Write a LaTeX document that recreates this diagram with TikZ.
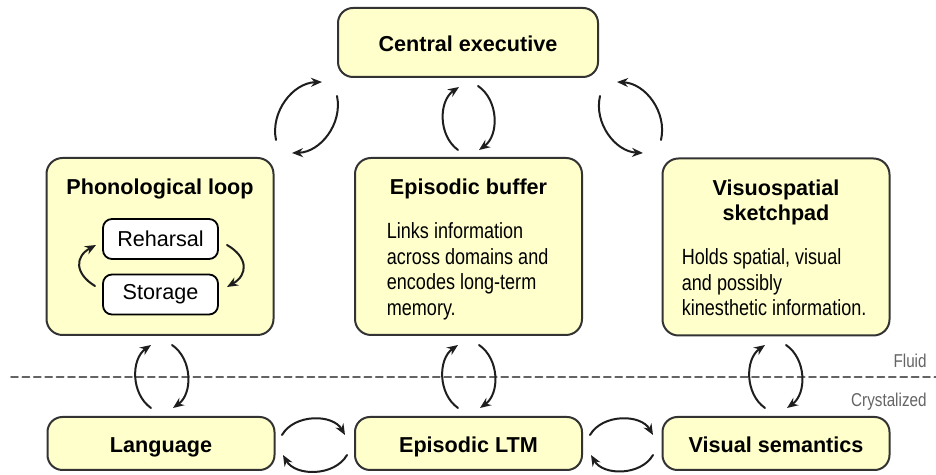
\documentclass[tikz,border=0pt]{standalone}
\usepackage{fontspec}
\setmainfont{Liberation Sans}
\newfontfamily\narrowsans[FakeStretch=0.82]{Liberation Sans}
\usetikzlibrary{arrows.meta}

\definecolor{boxfill}{RGB}{255,255,204}
\definecolor{boxline}{RGB}{51,51,51}
\definecolor{linkcol}{RGB}{30,30,30}
\definecolor{sidegrey}{RGB}{100,100,100}

\newcommand{\unitheadfont}{\bfseries\fontsize{10.8}{12.25}\selectfont}
\newcommand{\unitbodyfont}{\narrowsans\fontsize{11}{12.75}\selectfont}
\newcommand{\slotfont}{\fontsize{10.8}{12}\selectfont}
\newcommand{\sidefont}{\narrowsans\fontsize{9.3}{11}\selectfont}

\begin{document}
\begin{tikzpicture}[x=0.5pt, y=0.5pt, line cap=round,
    unit/.style={draw=boxline, fill=boxfill, line width=1pt, rounded corners=8pt, inner sep=0pt},
    bigunit/.style={unit, minimum width=113.5pt, minimum height=88.5pt},
    store/.style={unit, minimum width=113.5pt, minimum height=26.5pt, rounded corners=7.5pt, font=\unitheadfont, text height=10pt, text depth=0.5pt},
    heading/.style={font=\unitheadfont, inner sep=0pt},
    blurb/.style={font=\unitbodyfont, align=left, inner sep=0pt, anchor=base west},
    slot/.style={draw=black, fill=white, line width=0.9pt, rounded corners=4.5pt, minimum width=57.5pt, minimum height=20pt, inner sep=0pt, font=\slotfont},
    link/.style={draw=linkcol, line width=1pt, -{Stealth[length=5.5pt, width=4.5pt]}},
    side/.style={font=\sidefont, text=sidegrey, inner sep=0pt, anchor=base east}]
      \useasboundingbox (0,0) rectangle (936,475);

      % fluid / crystalized split
      \coordinate (splitL) at (11,98);
      \coordinate (splitR) at (936,98);
      \draw[sidegrey, line width=0.9pt, dash pattern=on 3.5pt off 2.2pt] (splitL) -- (splitR);
      \node[side] (fluid) at (927,107) {Fluid};
      \node[side] (cryst) at (927,68.3) {Crystalized};

      % components
      \node[unit, minimum width=130pt, minimum height=34.5pt, rounded corners=7.5pt, font=\unitheadfont, text height=10pt, text depth=0.5pt] (ce) at (468,432.5) {Central executive};

      \node[bigunit] (pl) at (160,228.5) {};
      \node[bigunit] (eb) at (468.5,228.5) {};
      \node[bigunit] (vs) at (776,228) {};

      \node[store] (lang) at (161,31.5) {Language};
      \node[store] (ltm) at (468.5,31.5) {Episodic LTM};
      \node[store] (vsem) at (776,31.5) {Visual semantics};

      % texts inside the components (base = last line)
      \node[heading, anchor=base] (plhead) at (160,280) {Phonological loop};
      \node[heading, anchor=base] (ebhead) at (468.5,280) {Episodic buffer};
      \node[heading, anchor=base, align=center] (vshead) at (776,254.5) {Visuospatial\\sketchpad};

      \node[blurb] (ebtext) at (386.5,159.5) {Links information\\across domains and\\encodes long-term\\memory.};
      \node[blurb] (vstext) at (681.5,159) {Holds spatial, visual\\and possibly\\kinesthetic information.};

      \node[slot] (reh) at (160.5,236) {Reharsal};
      \node[slot] (sto) at (160.5,180.5) {Storage};

      % arrow ends
      \coordinate (tl1s) at (276,335);  \coordinate (tl1e) at (322,393);
      \coordinate (tl2s) at (337,379);  \coordinate (tl2e) at (292,322);
      \coordinate (tm1s) at (458,325);  \coordinate (tm1e) at (459,388);
      \coordinate (tm2s) at (478,389);  \coordinate (tm2e) at (479,325);
      \coordinate (tr1s) at (600,379);  \coordinate (tr1e) at (643,322);
      \coordinate (tr2s) at (661,335);  \coordinate (tr2e) at (617,393);
      \coordinate (hl1s) at (282,40);   \coordinate (hl1e) at (345,40);
      \coordinate (hl2s) at (347,20);   \coordinate (hl2e) at (283,20);
      \coordinate (hr1s) at (590,40);   \coordinate (hr1e) at (653,40);
      \coordinate (hr2s) at (653,20);   \coordinate (hr2e) at (591,20);
      \coordinate (lp1s) at (95,189);   \coordinate (lp1e) at (96,230);
      \coordinate (lp2s) at (227,230);  \coordinate (lp2e) at (227,188);

      \draw[link] (tl1s) to[bend left=50] (tl1e);
      \draw[link] (tl2s) to[bend left=50] (tl2e);
      \draw[link] (tm1s) to[bend left=55] (tm1e);
      \draw[link] (tm2s) to[bend left=55] (tm2e);
      \draw[link] (tr1s) to[bend right=50] (tr1e);
      \draw[link] (tr2s) to[bend right=50] (tr2e);

      \foreach \x/\n in {151/l, 458/m, 765/r} {
        \coordinate (v\n1s) at (\x,67);    \coordinate (v\n1e) at (\x,130);
        \coordinate (v\n2s) at (\x+21,130); \coordinate (v\n2e) at (\x+22,67);
        \draw[link] (v\n1s) to[bend left=55] (v\n1e);
        \draw[link] (v\n2s) to[bend left=55] (v\n2e);
      }

      \draw[link] (hl1s) to[bend left=60] (hl1e);
      \draw[link] (hl2s) to[bend left=60] (hl2e);
      \draw[link] (hr1s) to[bend left=60] (hr1e);
      \draw[link] (hr2s) to[bend left=60] (hr2e);

      \draw[link] (lp1s) to[bend left=60, looseness=1.5] (lp1e);
      \draw[link] (lp2s) to[bend left=60, looseness=1.5] (lp2e);
    \end{tikzpicture}
\end{document}
